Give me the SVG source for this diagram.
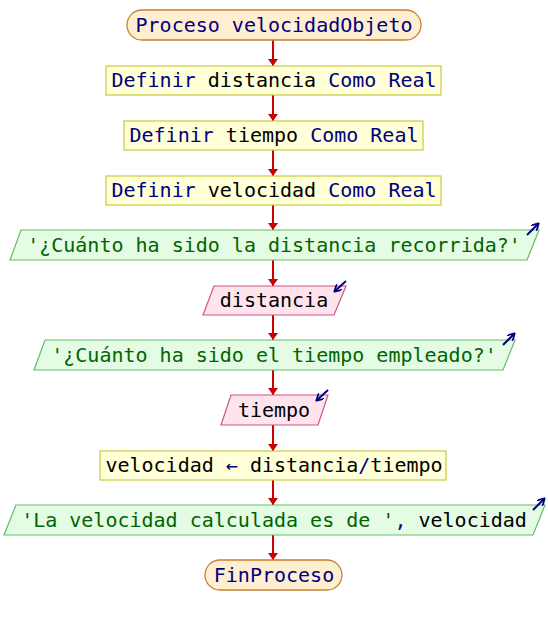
<svg xmlns="http://www.w3.org/2000/svg" width="548" height="625" viewBox="0 0 548 625">
<defs>
<marker id="ah" markerWidth="8" markerHeight="12" refX="7" refY="5" orient="auto" markerUnits="userSpaceOnUse">
<path d="M0,0 L7,5 L0,10 Z" fill="#cc0000"/>
</marker>
<marker id="ih" markerWidth="8" markerHeight="8" refX="6" refY="4" orient="auto" markerUnits="userSpaceOnUse">
<path d="M0,0 L7,4 L0,8" fill="none" stroke="#000080" stroke-width="1.8"/>
</marker>
<style>
text{font-family:"DejaVu Sans Mono","Liberation Mono",monospace;font-size:20px;text-anchor:middle;fill:#000}
.kw{fill:#000080}
.st{fill:#006400}
.term{fill:#ffeed0;stroke:#c88030;stroke-width:1.3}
.proc{fill:#ffffd8;stroke:#c8c840;stroke-width:1.2}
.out{fill:#e4fce4;stroke:#66bb66;stroke-width:1.2}
.in{fill:#ffe4ee;stroke:#cc5588;stroke-width:1.2}
.ico{stroke:#000080;stroke-width:2;fill:none}
.con line{stroke:#cc0000;stroke-width:2}
</style>
</defs>
<rect width="548" height="625" fill="#ffffff"/>
<g class="con">
<line x1="273" y1="40" x2="273" y2="66" marker-end="url(#ah)"/>
<line x1="273" y1="95" x2="273" y2="121" marker-end="url(#ah)"/>
<line x1="273" y1="150" x2="273" y2="176" marker-end="url(#ah)"/>
<line x1="273" y1="205" x2="273" y2="230" marker-end="url(#ah)"/>
<line x1="273" y1="260" x2="273" y2="286" marker-end="url(#ah)"/>
<line x1="273" y1="315" x2="273" y2="340" marker-end="url(#ah)"/>
<line x1="273" y1="370" x2="273" y2="395" marker-end="url(#ah)"/>
<line x1="273" y1="425" x2="273" y2="451" marker-end="url(#ah)"/>
<line x1="273" y1="480" x2="273" y2="505" marker-end="url(#ah)"/>
<line x1="273" y1="535" x2="273" y2="560" marker-end="url(#ah)"/>
</g>
<g id="start">
<rect class="term" x="127" y="10" width="294" height="30" rx="15"/>
<text x="274" y="32" class="kw">Proceso velocidadObjeto</text>
</g>
<g id="def1">
<rect class="proc" x="106" y="66" width="335" height="29"/>
<text x="274" y="87"><tspan class="kw">Definir</tspan> distancia <tspan class="kw">Como Real</tspan></text>
</g>
<g id="def2">
<rect class="proc" x="124" y="121" width="299" height="29"/>
<text x="274" y="142"><tspan class="kw">Definir</tspan> tiempo <tspan class="kw">Como Real</tspan></text>
</g>
<g id="def3">
<rect class="proc" x="106" y="176" width="335" height="29"/>
<text x="274" y="197"><tspan class="kw">Definir</tspan> velocidad <tspan class="kw">Como Real</tspan></text>
</g>
<g id="out1">
<polygon class="out" points="21,230 539,230 527,260 10,260"/>
<text x="274" y="252" class="st">'¿Cuánto ha sido la distancia recorrida?'</text>
<line class="ico" x1="527" y1="235" x2="538" y2="224" marker-end="url(#ih)"/>
</g>
<g id="in1">
<polygon class="in" points="214,286 346,286 334,315 203,315"/>
<text x="274" y="307">distancia</text>
<line class="ico" x1="346" y1="281" x2="335" y2="291" marker-end="url(#ih)"/>
</g>
<g id="out2">
<polygon class="out" points="45,340 515,340 503,370 34,370"/>
<text x="274" y="362" class="st">'¿Cuánto ha sido el tiempo empleado?'</text>
<line class="ico" x1="503" y1="345" x2="514" y2="334" marker-end="url(#ih)"/>
</g>
<g id="in2">
<polygon class="in" points="231,395 328,395 318,425 221,425"/>
<text x="274" y="417">tiempo</text>
<line class="ico" x1="328" y1="390" x2="317" y2="400" marker-end="url(#ih)"/>
</g>
<g id="assign">
<rect class="proc" x="100" y="451" width="346" height="29"/>
<text x="274" y="472">velocidad <tspan class="kw">←</tspan> distancia<tspan class="kw">/</tspan>tiempo</text>
</g>
<g id="out3">
<polygon class="out" points="16,505 545,505 533,535 4,535"/>
<text x="274" y="527"><tspan class="st">'La velocidad calculada es de '</tspan><tspan class="kw">,</tspan> velocidad</text>
<line class="ico" x1="533" y1="510" x2="544" y2="499" marker-end="url(#ih)"/>
</g>
<g id="end">
<rect class="term" x="205" y="560" width="137" height="30" rx="15"/>
<text x="274" y="582" class="kw">FinProceso</text>
</g>
</svg>
